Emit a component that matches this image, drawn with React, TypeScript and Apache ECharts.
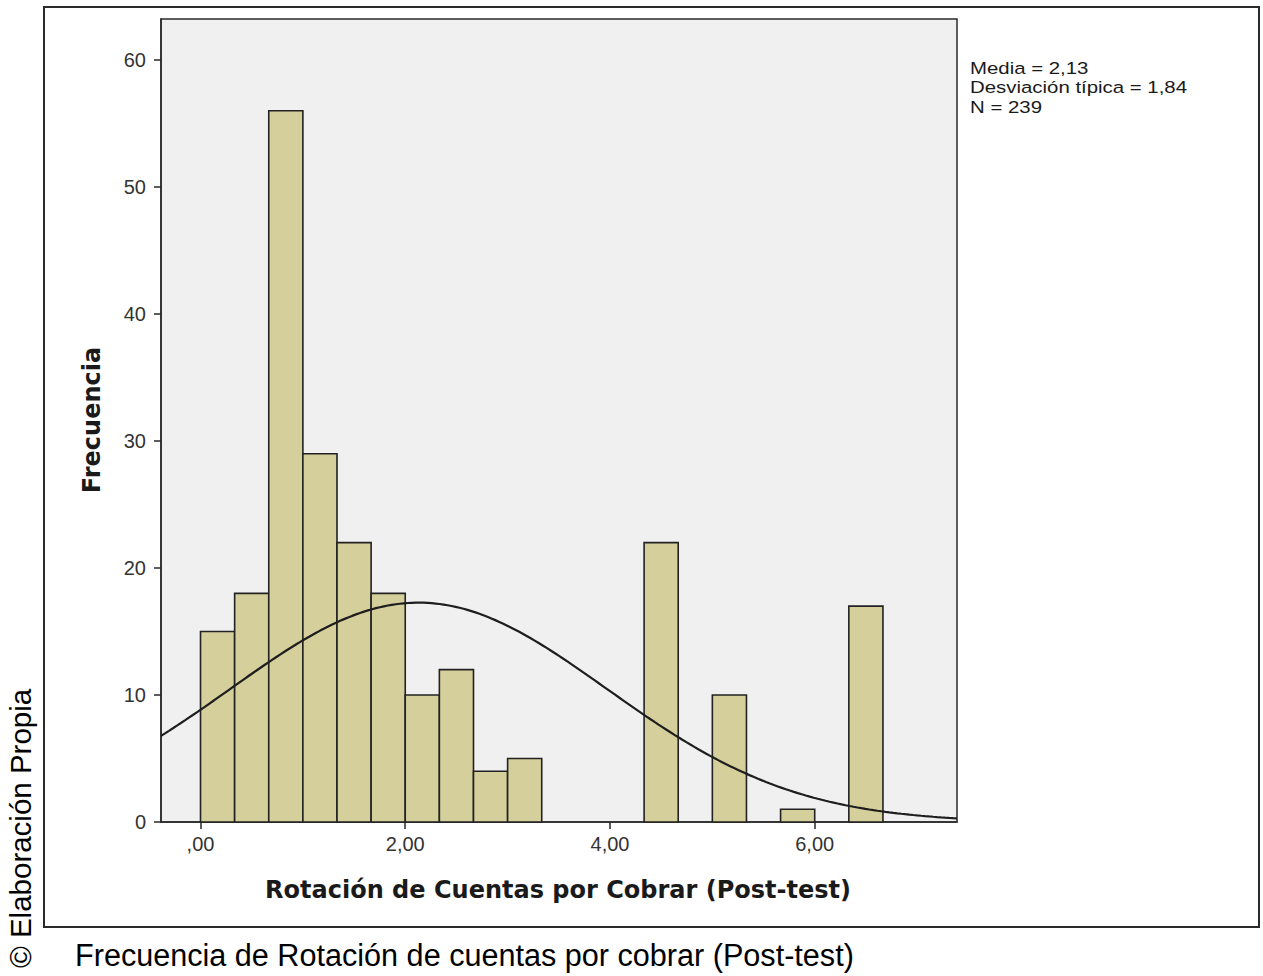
import React, { useEffect, useRef } from "react";
import * as echarts from "echarts";

// Histogram of "Rotación de Cuentas por Cobrar (Post-test)"
const binWidth = 1 / 3;
const binCounts = [15, 18, 56, 29, 22, 18, 10, 12, 4, 5, 0, 0, 0, 22, 0, 10, 0, 1, 0, 17];

// Summary statistics shown in the side note
const mean = 2.13;
const stdDev = 1.84;
const nObs = 239;

const xTickValues = [0, 2, 4, 6];
const xTickLabels = [",00", "2,00", "4,00", "6,00"];
const yTicks = [0, 10, 20, 30, 40, 50, 60];

const X_MIN = -0.386;
const X_MAX = 7.39;
const Y_MAX = 63.23;

const FONT = "'Liberation Sans', Arial, sans-serif";
const BOLD_FONT = "'DejaVu Sans', Verdana, sans-serif";

// Normal density scaled to the histogram (count per bin) from the stated mean / sd / N
function normalCurve(): number[][] {
  const pts: number[][] = [];
  const steps = 200;
  for (let i = 0; i <= steps; i++) {
    const x = X_MIN + ((X_MAX - X_MIN) * i) / steps;
    const z = (x - mean) / stdDev;
    const y = (nObs * binWidth * Math.exp(-0.5 * z * z)) / (stdDev * Math.sqrt(2 * Math.PI));
    pts.push([x, y]);
  }
  return pts;
}

export default function App() {
  const ref = useRef<HTMLDivElement>(null);

  useEffect(() => {
    if (!ref.current) return;
    const chart = echarts.init(ref.current, null, { renderer: "svg" });

    const bars = binCounts.map((c, i) => [i * binWidth, (i + 1) * binWidth, c]);

    chart.setOption({
      animation: false,
      backgroundColor: "#ffffff",
      grid: {
        left: 161,
        top: 19,
        width: 796,
        height: 803,
        show: true,
        backgroundColor: "#f0f0f0",
        borderColor: "#2a2a2a",
        borderWidth: 1.5,
      },
      xAxis: {
        type: "value",
        min: X_MIN,
        max: X_MAX,
        splitLine: { show: false },
        axisLine: { show: true, onZero: false, lineStyle: { color: "#2a2a2a", width: 1.5 } },
        axisTick: {
          show: true,
          customValues: xTickValues,
          length: 7,
          inside: false,
          lineStyle: { color: "#2a2a2a", width: 1.5 },
        },
        axisLabel: {
          customValues: xTickValues,
          margin: 12,
          color: "#333333",
          fontFamily: FONT,
          fontSize: 20,
          formatter: (v: number) => {
            const idx = xTickValues.indexOf(Math.round(v * 1000) / 1000);
            return idx >= 0 ? xTickLabels[idx] : "";
          },
        },
      },
      yAxis: {
        type: "value",
        min: 0,
        max: Y_MAX,
        interval: 10,
        splitLine: { show: false },
        axisLine: { show: true, onZero: false, lineStyle: { color: "#2a2a2a", width: 1.5 } },
        axisTick: {
          show: true,
          customValues: yTicks,
          length: 7,
          lineStyle: { color: "#2a2a2a", width: 1.5 },
        },
        axisLabel: {
          customValues: yTicks,
          margin: 15,
          color: "#333333",
          fontFamily: FONT,
          fontSize: 20,
        },
      },
      series: [
        {
          type: "custom",
          data: bars,
          encode: { x: [0, 1], y: 2 },
          renderItem: (_params: any, api: any) => {
            const x0 = api.value(0);
            const x1 = api.value(1);
            const c = api.value(2);
            if (!c) return null;
            const p0 = api.coord([x0, c]);
            const p1 = api.coord([x1, 0]);
            return {
              type: "rect",
              shape: { x: p0[0], y: p0[1], width: p1[0] - p0[0], height: p1[1] - p0[1] },
              style: { fill: "#d4cf9b", stroke: "#222222", lineWidth: 1.6 },
            };
          },
          z: 2,
        },
        {
          type: "line",
          data: normalCurve(),
          showSymbol: false,
          smooth: false,
          lineStyle: { color: "#1e1e1e", width: 2.2 },
          z: 3,
        },
      ],
      graphic: [
        {
          type: "rect",
          shape: { x: 44, y: 7, width: 1215, height: 920 },
          style: { fill: "none", stroke: "#2a2a2a", lineWidth: 2 },
          silent: true,
        },
        {
          type: "text",
          x: 92,
          y: 420,
          rotation: Math.PI / 2,
          style: {
            text: "Frecuencia",
            font: `bold 24px ${BOLD_FONT}`,
            fill: "#1a1a1a",
            textAlign: "center",
            textVerticalAlign: "middle",
          },
        },
        {
          type: "text",
          x: 558,
          y: 890,
          style: {
            text: "Rotación de Cuentas por Cobrar (Post-test)",
            font: `bold 24px ${BOLD_FONT}`,
            fill: "#1a1a1a",
            textAlign: "center",
            textVerticalAlign: "middle",
          },
        },
        {
          type: "text",
          x: 970,
          y: 58,
          scaleX: 1.2,
          style: {
            text: `Media = 2,13\nDesviación típica = 1,84\nN = 239`,
            font: `17px ${FONT}`,
            lineHeight: 19.5,
            fill: "#1a1a1a",
            textAlign: "left",
            textVerticalAlign: "top",
          },
        },
        {
          type: "text",
          x: 75,
          y: 955,
          style: {
            text: "Frecuencia de Rotación de cuentas por cobrar (Post-test)",
            font: `30.6px ${FONT}`,
            fill: "#000000",
            textAlign: "left",
            textVerticalAlign: "middle",
          },
        },
        {
          type: "text",
          x: 20,
          y: 968,
          rotation: Math.PI / 2,
          style: {
            text: "© Elaboración Propia",
            font: `29.5px ${FONT}`,
            fill: "#000000",
            textAlign: "left",
            textVerticalAlign: "middle",
          },
        },
      ],
    });

    return () => chart.dispose();
  }, []);

  return (
    <div
      ref={ref}
      style={{ position: "fixed", left: 0, top: 0, width: 1263, height: 976 }}
    />
  );
}
